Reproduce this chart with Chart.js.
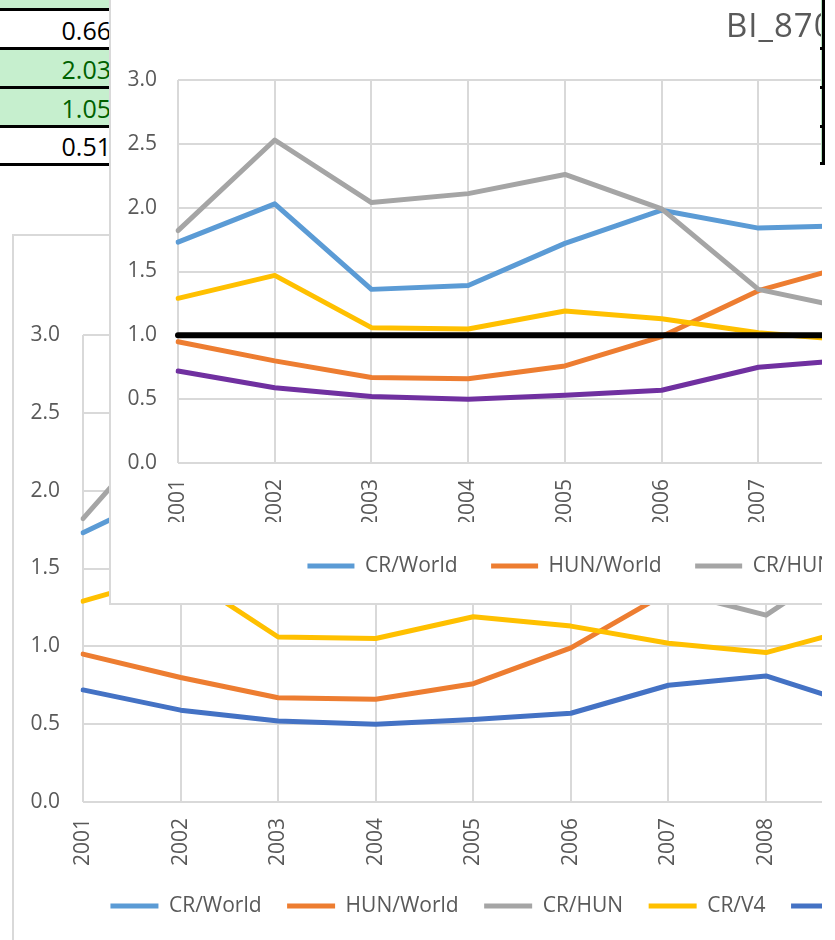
<!DOCTYPE html>
<html><head><meta charset="utf-8">
<script src="https://cdn.jsdelivr.net/npm/chart.js@4.4.1/dist/chart.umd.min.js"></script>
<style>
html,body{margin:0;padding:0;background:#fff;}
#page{position:relative;width:835px;height:940px;overflow:hidden;background:#fff;font-family:"Open Sans",sans-serif;}
.cell{position:absolute;left:0;width:111px;display:flex;align-items:center;justify-content:flex-end;font-size:25px;box-sizing:border-box;padding-top:2px;}
.g{background:#C6EFCE;color:#006100;}
.w{background:#fff;color:#000;}
.hb{position:absolute;left:0;width:111px;height:3px;background:#000;}
#back{position:absolute;left:12px;top:234px;width:810px;height:706px;overflow:hidden;background:#fff;z-index:1;}
#backL{position:absolute;left:12px;top:234px;width:2px;height:706px;background:#d9d9d9;z-index:2;}
#backT{position:absolute;left:12px;top:234px;width:810px;height:2px;background:#d9d9d9;z-index:2;}
#front{position:absolute;left:110px;top:0;width:712px;height:603px;overflow:hidden;background:#fff;z-index:3;}
#frontL{position:absolute;left:109px;top:0;width:2px;height:605px;background:#d9d9d9;z-index:4;}
#frontB{position:absolute;left:109px;top:603px;width:713px;height:2px;background:#d9d9d9;z-index:4;}
#title{position:absolute;left:616px;top:5px;font-size:33px;letter-spacing:1px;line-height:40px;color:#595959;white-space:nowrap;z-index:5;}
#rline{position:absolute;left:822px;top:0;width:2.5px;height:165px;background:#000;z-index:6;}
#gline{position:absolute;left:821px;top:0;width:1px;height:163px;background:#b5e3bf;z-index:6;}
.tick{position:absolute;left:820px;width:3px;height:3px;background:#000;z-index:6;}
#cb{position:absolute;left:-20px;top:0;}
#cf{position:absolute;left:0;top:0;}
</style></head>
<body><div id="page">
  <div class="cell g" style="top:-30px;height:38px;"></div>
  <div class="hb" style="top:7.5px"></div>
  <div class="cell w" style="top:10.5px;height:36px;">0.66</div>
  <div class="hb" style="top:46.5px"></div>
  <div class="cell g" style="top:49.5px;height:36px;">2.03</div>
  <div class="hb" style="top:85.5px"></div>
  <div class="cell g" style="top:88.5px;height:36px;">1.05</div>
  <div class="hb" style="top:124.5px"></div>
  <div class="cell w" style="top:127.5px;height:35px;">0.51</div>
  <div class="hb" style="top:162.5px"></div>

  <div id="back"><canvas id="cb" width="1108" height="706"></canvas></div>
  <div id="backL"></div><div id="backT"></div>

  <div id="front"><canvas id="cf" width="1270" height="603"></canvas>
    <div id="title">BI_870</div>
  </div>
  <div id="frontL"></div><div id="frontB"></div>

  <div id="gline"></div><div id="rline"></div>
  <div class="tick" style="top:47px"></div><div class="tick" style="top:86px"></div>
  <div class="tick" style="top:125px"></div><div class="tick" style="top:162px"></div>
</div>
<script>
const years = ['2001','2002','2003','2004','2005','2006','2007','2008','2009','2010','2011','2012','2013'];
const crWorld  = [1.73, 2.03, 1.36, 1.39, 1.72, 1.98, 1.84, 1.86];
const hunWorld = [0.95, 0.80, 0.67, 0.66, 0.76, 0.99, 1.35, 1.56];
const crHun    = [1.82, 2.53, 2.04, 2.11, 2.26, 1.99, 1.36, 1.20, 1.62];
const crV4     = [1.29, 1.47, 1.06, 1.05, 1.19, 1.13, 1.02, 0.96, 1.13];
const v4World  = [0.72, 0.59, 0.52, 0.50, 0.53, 0.57, 0.75, 0.81, 0.61];
const baseLine = [1, 1, 1, 1, 1, 1, 1, 1];
const yTicks = [0, 0.5, 1.0, 1.5, 2.0, 2.5, 3.0];

Chart.defaults.font.family = '"Open Sans", sans-serif';
const GRAY = '#595959', GRID = '#D9D9D9';

function ds(label, data, color, order, width) {
  return {label, data, borderColor: color, backgroundColor: color, borderWidth: width,
    order, pointRadius: 0, pointHoverRadius: 0, tension: 0, fill: false,
    borderCapStyle: 'round', borderJoinStyle: 'round'};
}

function makeChart(el, labels, datasets, o) {
  return new Chart(el, {
    type: 'line',
    data: {labels, datasets},
    options: {
      responsive: false, animation: false, devicePixelRatio: 1,
      layout: {padding: {left: o.pl, right: o.pr, top: o.pt, bottom: o.pb}},
      scales: {
        x: {
          offset: false,
          grid: {color: GRID, lineWidth: 2, drawTicks: false},
          border: {display: false},
          ticks: {minRotation: 90, maxRotation: 90, autoSkip: false, padding: o.xpad,
                  color: GRAY, font: {size: 21}},
          afterFit: s => { s.height = o.xh; }
        },
        y: {
          min: 0, max: 3,
          afterBuildTicks: s => { s.ticks = yTicks.map(v => ({value: v})); },
          grid: {color: GRID, lineWidth: 2, drawTicks: false},
          border: {display: false},
          ticks: {padding: o.ypad, color: GRAY, font: {size: 21}, callback: v => Number(v).toFixed(1)},
          afterFit: s => { s.width = o.yw; }
        }
      },
      plugins: {
        title: {display: false},
        tooltip: {enabled: false},
        legend: {
          position: 'bottom',
          labels: {
            usePointStyle: true, pointStyle: 'line', pointStyleWidth: o.lw,
            padding: o.lp, color: GRAY, font: {size: 21},
            filter: it => it.text !== 'Base',
            sort: (a, b) => a.datasetIndex - b.datasetIndex
          }
        }
      }
    }
  });
}

makeChart(document.getElementById('cb'), years.slice(0, 11), [
  ds('CR/World', crWorld, '#5B9BD5', 6, 5),
  ds('HUN/World', hunWorld, '#ED7D31', 5, 5),
  ds('CR/HUN', crHun, '#A5A5A5', 4, 5),
  ds('CR/V4', crV4, '#FFC000', 3, 5),
  ds('V4/World', v4World, '#4472C4', 2, 5)
], {pl: 0, pr: 41, pt: 101, pb: 13.5, xpad: 16, xh: 68, ypad: 23, yw: 91, lw: 48, lp: 25.5});

makeChart(document.getElementById('cf'), years, [
  ds('CR/World', crWorld.slice(0, 8), '#5B9BD5', 6, 5),
  ds('HUN/World', hunWorld.slice(0, 8), '#ED7D31', 5, 5),
  ds('CR/HUN', crHun.slice(0, 8), '#A5A5A5', 4, 5),
  ds('CR/V4', crV4.slice(0, 8), '#FFC000', 3, 5),
  ds('V4/World', v4World.slice(0, 8), '#7030A0', 2, 5),
  ds('Base', baseLine, '#000000', 1, 6)
], {pl: 2, pr: 20, pt: 80, pb: 16.5, xpad: 16, xh: 59, ypad: 21, yw: 66, lw: 47, lp: 33.5});
</script>
</body></html>
